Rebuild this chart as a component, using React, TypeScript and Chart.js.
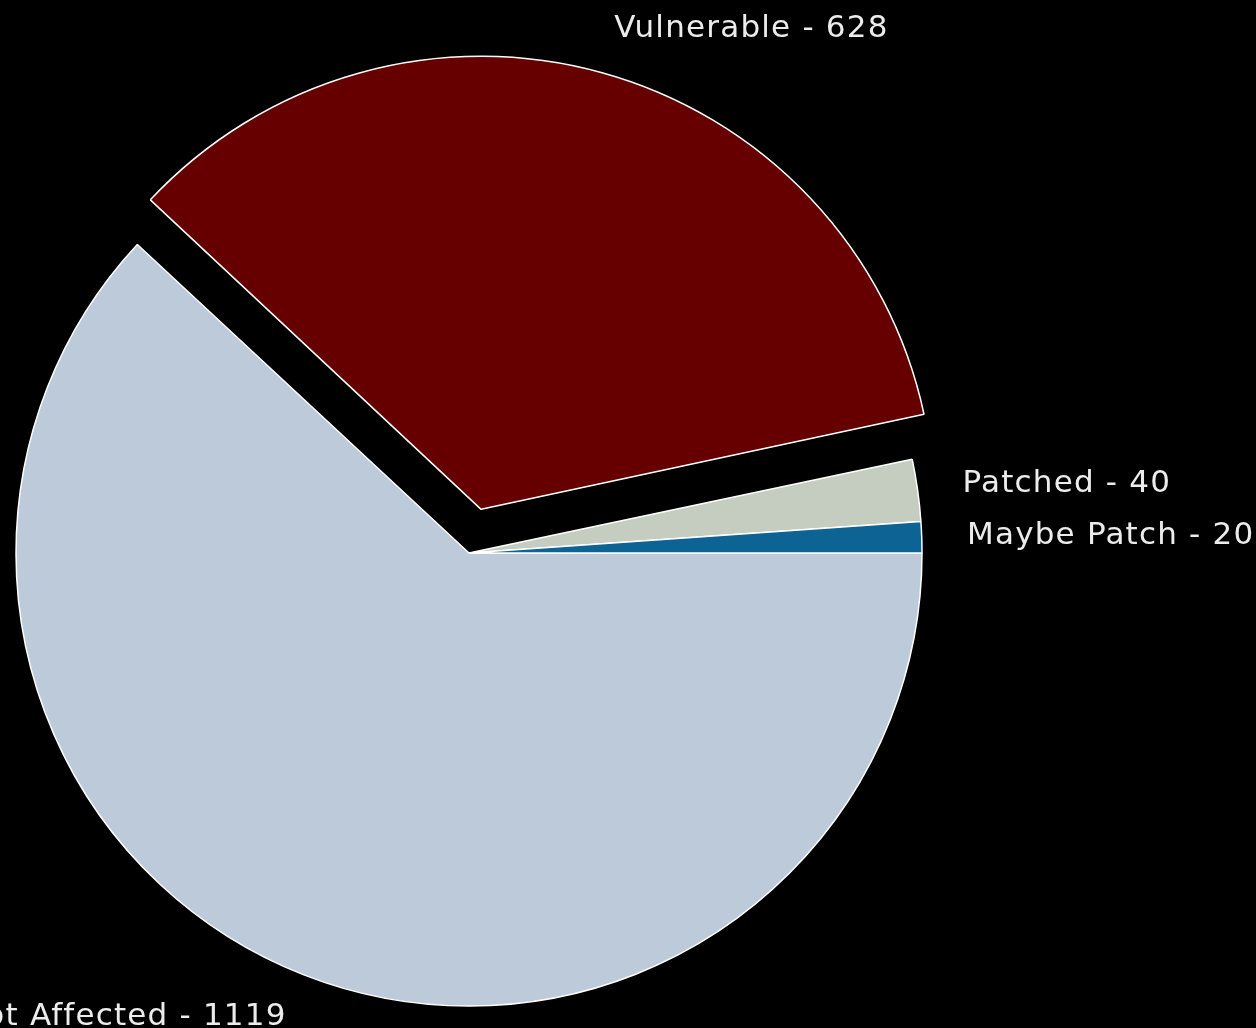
import React, { useEffect, useRef } from "react";
import { Chart, registerables } from "chart.js";

Chart.register(...registerables);

// Data in clockwise drawing order (starting at 3 o'clock)
const categories = ["Not Affected", "Vulnerable", "Patched", "Maybe Patch"];
const values = [1119, 628, 40, 20];
const colors = ["#bccad9", "#660000", "#c4cdbf", "#0d6394"];
const explode = [0, 0.1, 0, 0];

const W = 1256;
const H = 1028;
const CX = 469;
const CY = 553;
const R = 453;

export default function App() {
  const ref = useRef<HTMLCanvasElement | null>(null);

  useEffect(() => {
    if (!ref.current) return;
    const total = values.reduce((a, b) => a + b, 0);
    const fixes = values.map((v) => {
      const circ = (v / total) * Math.PI * 2;
      return 1 - Math.sin(Math.min(Math.PI, circ));
    });
    // Chart.js translates an arc by offset/4 and grows its radius by offset/4*fix
    const offsets = values.map((_, i) => explode[i] * R * 4);

    const radiusFix = {
      id: "radiusFix",
      afterDatasetsUpdate(chart: any) {
        const meta = chart.getDatasetMeta(0);
        meta.data.forEach((arc: any, i: number) => {
          if (explode[i] > 0) {
            arc.outerRadius = R - explode[i] * R * fixes[i];
          }
        });
      },
    };

    const labelPlugin = {
      id: "pieLabels",
      afterDatasetsDraw(chart: any) {
        const ctx = chart.ctx;
        const meta = chart.getDatasetMeta(0);
        ctx.save();
        ctx.font = "31px 'DejaVu Sans'";
        (ctx as any).letterSpacing = "1.2px";
        ctx.fillStyle = "#ececec";
        ctx.textBaseline = "middle";
        meta.data.forEach((arc: any, i: number) => {
          const mid = (arc.startAngle + arc.endAngle) / 2;
          const d = (1.1 + explode[i]) * R;
          const x = arc.x + Math.cos(mid) * d;
          const y = arc.y + Math.sin(mid) * d;
          ctx.textAlign = Math.cos(mid) > 0 ? "left" : "right";
          ctx.fillText(`${categories[i]} - ${values[i]}`, x, y);
        });
        ctx.restore();
      },
    };

    const chart = new Chart(ref.current, {
      type: "pie",
      data: {
        labels: categories,
        datasets: [
          {
            data: values,
            backgroundColor: colors,
            borderColor: "#ffffff",
            borderWidth: 1.5,
            offset: offsets,
            radius: R,
            rotation: 90,
          } as any,
        ],
      },
      options: {
        animation: false,
        responsive: false,
        maintainAspectRatio: false,
        layout: {
          padding: { left: 0, right: W - 2 * CX, top: 2 * CY - H, bottom: 0 },
        },
        plugins: {
          legend: { display: false },
          tooltip: { enabled: false },
        },
        events: [],
      } as any,
      plugins: [radiusFix, labelPlugin],
    });
    return () => chart.destroy();
  }, []);

  return (
    <div
      style={{
        position: "absolute",
        left: 0,
        top: 0,
        width: W,
        height: H,
        background: "#000000",
        overflow: "hidden",
      }}
    >
      <canvas ref={ref} width={W} height={H} style={{ display: "block" }} />
    </div>
  );
}
